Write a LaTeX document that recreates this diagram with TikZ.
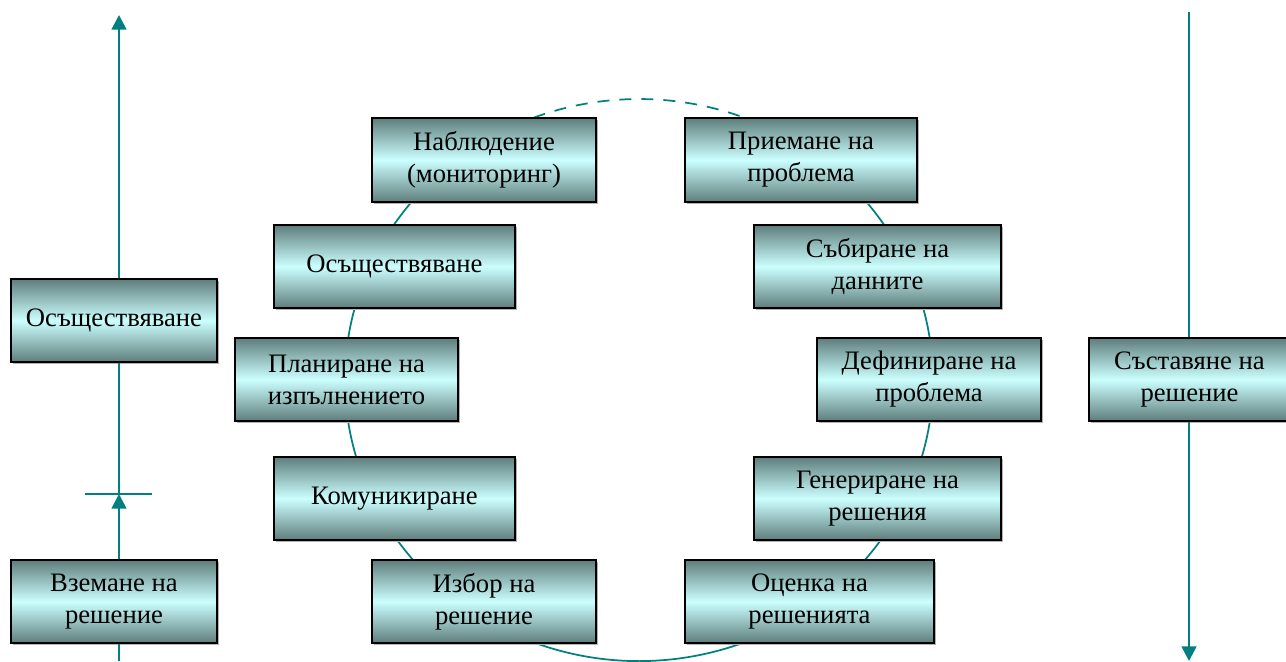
\documentclass[tikz,border=0pt]{standalone}
\usepackage{fontspec}
\setmainfont{Liberation Serif}
\usetikzlibrary{arrows.meta,shadows}
\definecolor{tealline}{RGB}{0,128,128}
\definecolor{boxdark}{RGB}{94,126,124}
\definecolor{boxlight}{RGB}{204,255,255}
\begin{document}
\begin{tikzpicture}[x=0.75pt,y=-0.75pt,
  box/.style={draw=black,line width=1.1pt,top color=boxdark,bottom color=boxdark,middle color=boxlight,
    align=center,font=\fontsize{20}{24}\selectfont,inner sep=0pt,
    drop shadow={shadow xshift=1.5pt,shadow yshift=-1.5pt,fill=black!30,opacity=1}},
  ell/.style={draw=tealline,line width=1.3pt},
  vline/.style={draw=tealline,line width=2pt},
  tick/.style={draw=tealline,line width=1.1pt},
  tip/.style={-{Triangle[width=11pt,length=11pt]}}]
\useasboundingbox (0,0) rectangle (1286,661);
\clip (0,0) rectangle (1286,661);
\fill[white] (0,0) rectangle (1286,661);
% ellipse (solid and dashed parts)
\draw[ell] (749.1,119.5) arc[start angle=-68,end angle=249,x radius=294,y radius=281];
\draw[ell,dash pattern=on 9pt off 7.5pt] (533.6,117.7) arc[start angle=-111,end angle=-68,x radius=294,y radius=281];
% boxes of the cycle
\node[box,minimum width=168pt,minimum height=63pt] (n1) at (484,160) {Наблюдение\\(мониторинг)};
\node[box,minimum width=174pt,minimum height=63pt] (n2) at (801,160) {Приемане на\\проблема};
\node[box,minimum width=180.75pt,minimum height=62.25pt] (n3) at (394.5,266.5) {Осъществяване};
\node[box,minimum width=185.25pt,minimum height=62.25pt] (n4) at (877.5,266.5) {Събиране на\\данните};
\node[box,minimum width=167.25pt,minimum height=62.25pt] (n5) at (346.5,379.5) {Планиране на\\изпълнението};
\node[box,minimum width=168pt,minimum height=62.25pt] (n6) at (929,379.5) {Дефиниране на\\проблема};
\node[box,minimum width=180.75pt,minimum height=62.25pt] (n7) at (394.5,498.5) {Комуникиране};
\node[box,minimum width=185.25pt,minimum height=62.25pt] (n8) at (877.5,498.5) {Генериране на\\решения};
\node[box,minimum width=168pt,minimum height=62.25pt] (n9) at (484,601.5) {Избор на\\решение};
\node[box,minimum width=186.75pt,minimum height=62.25pt] (n10) at (809.5,601.5) {Оценка на\\решенията};
% side boxes
\node[box,minimum width=154.5pt,minimum height=62.25pt] (L1) at (114,320.5) {Осъществяване};
\node[box,minimum width=154.5pt,minimum height=62.25pt] (L2) at (114,601.5) {Вземане на\\решение};
\node[box,minimum width=150.75pt,minimum height=62.25pt] (R1) at (1189.5,379.5) {Съставяне на\\решение};
% left axis
\coordinate (lbot) at (119,661);
\coordinate (ltick) at (119,494);
\coordinate (ltop) at (119,15);
\coordinate (tl) at (85,494);
\coordinate (tr) at (152,494);
\draw[vline] (lbot) -- (lbot |- L2.south);
\draw[vline,tip] (ltick |- L2.north) -- (ltick);
\draw[vline] (ltick) -- (ltick |- L1.south);
\draw[vline,tip] (ltick |- L1.north) -- (ltop);
\draw[tick] (tl) -- (tr);
% right axis
\coordinate (rtop) at (1189,12);
\coordinate (rbot) at (1189,661);
\draw[vline] (rtop) -- (rtop |- R1.north);
\draw[vline,tip] (rtop |- R1.south) -- (rbot);
\end{tikzpicture}
\end{document}
